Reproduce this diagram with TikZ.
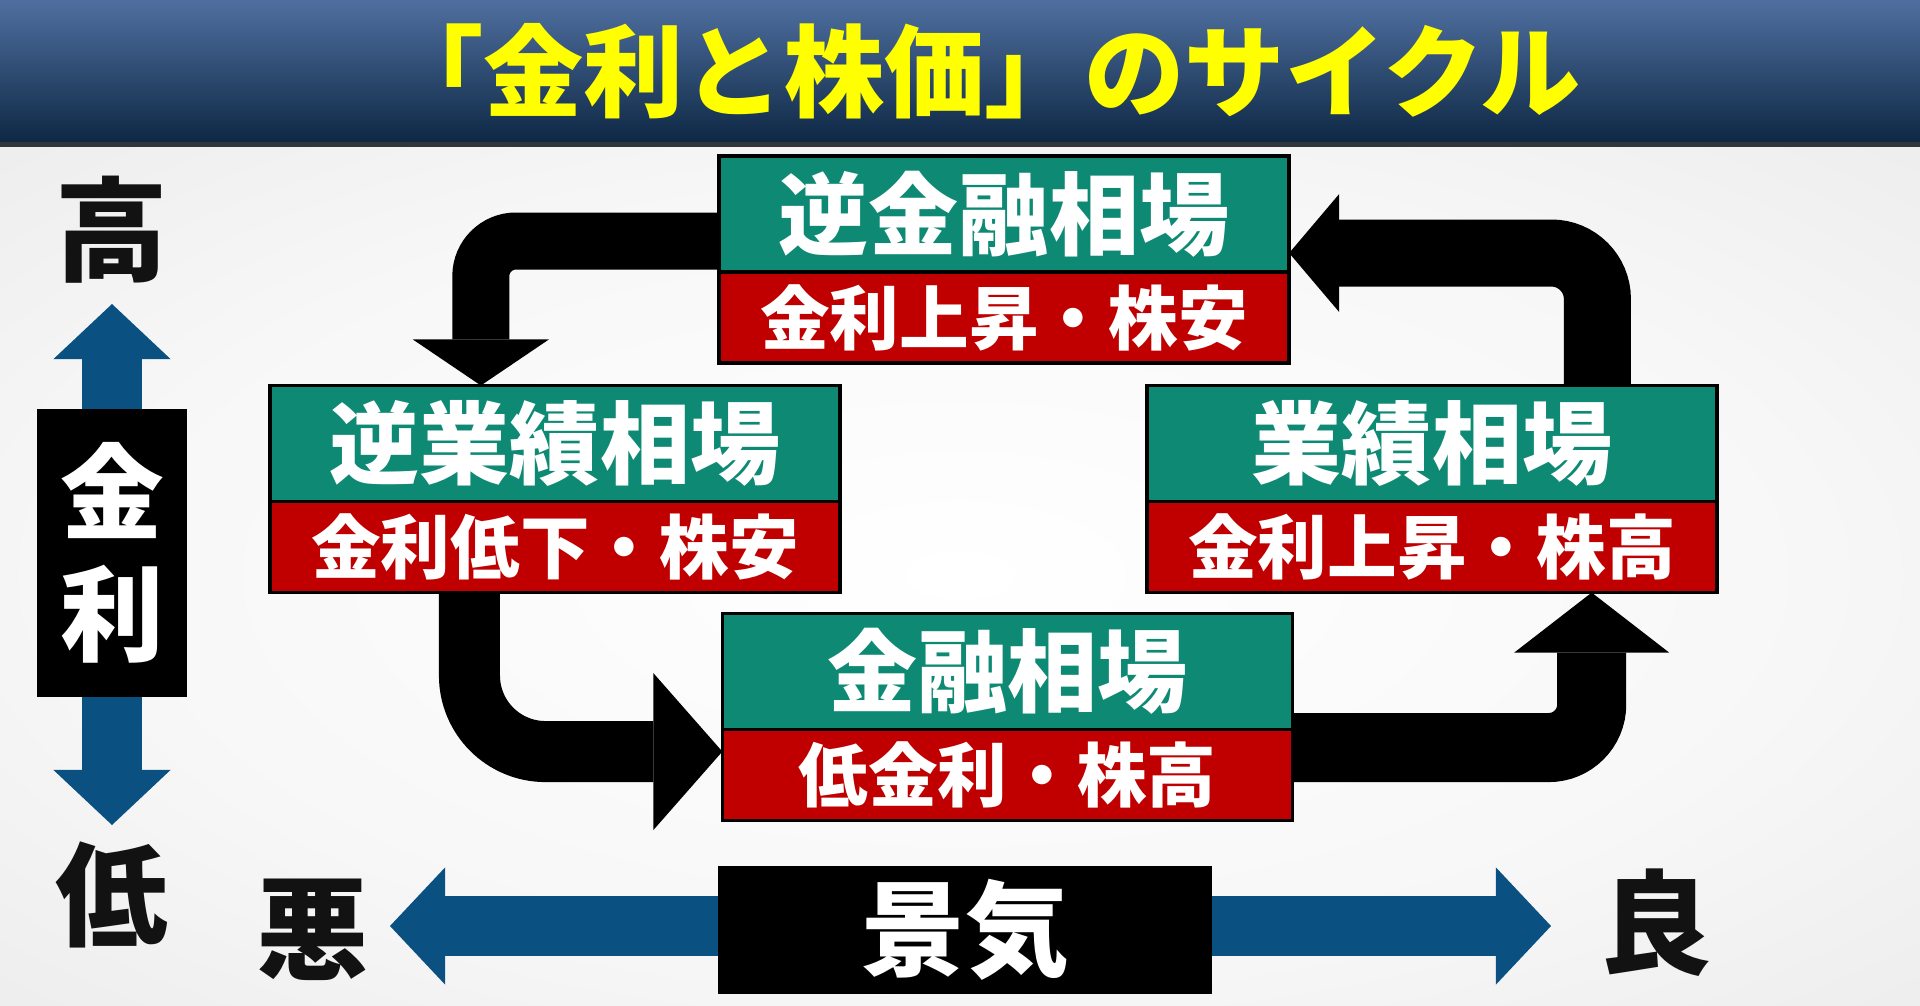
\documentclass[tikz,border=0pt]{standalone}
\usepackage{fontspec}
\usetikzlibrary{calc, positioning, arrows.meta, backgrounds}
\newfontfamily\jpfont{Noto Sans CJK JP}
\definecolor{mktgreen}{HTML}{0E8A74}
\definecolor{mktred}{HTML}{C00000}
\definecolor{axisblue}{HTML}{0A5081}
\definecolor{bartop}{HTML}{4F6FA0}
\definecolor{barmid}{HTML}{244A7A}
\definecolor{barbot}{HTML}{0E2844}
\definecolor{barline}{HTML}{30363C}
\definecolor{titleyellow}{HTML}{FFFF00}
\pgfdeclareradialshading{backdrop}{\pgfpoint{0bp}{0bp}}{color(0bp)=(white); color(22bp)=(black!3); color(50bp)=(black!11); color(72bp)=(black!13)}

\begin{document}
\begin{tikzpicture}[x=0.01cm, y=-0.01cm, every node/.style={inner sep=0pt, outer sep=0pt}]
  \tikzset{
    head/.style={draw=black, line width=1pt, fill=mktgreen, text=white, minimum width=5.7cm, minimum height=1.16cm, font=\jpfont\bfseries\fontsize{25.6}{26}\selectfont},
    sub/.style={draw=black, line width=1pt, fill=mktred, text=white, minimum width=5.7cm, minimum height=0.91cm, font=\jpfont\bfseries\fontsize{19.8}{20}\selectfont},
    axisbox/.style={fill=black, text=white, font=\jpfont\bfseries\fontsize{29.5}{34.7}\selectfont},
    endword/.style={text=black!93, font=\jpfont\bfseries\fontsize{32}{32}\selectfont},
    turn/.style n args={4}{line width=#1, rounded corners=#2, -{Triangle[length=#3, width=#4, line width=0pt]}},
    scalearrow/.style={draw=axisblue, line width=0.6cm, {Triangle[length=0.55cm, width=1.17cm, line width=0pt]}-{Triangle[length=0.55cm, width=1.17cm, line width=0pt]}}
  }
  \useasboundingbox (0,0) rectangle (1920,1005);

  \node[font=\jpfont\bfseries\fontsize{28.5}{28.5}\selectfont, text=titleyellow] (title) at (982,71) {「金利と株価」のサイクル};

  % market phases, clockwise from the top
  \node[head] (revfin) at (1004,214) {逆金融相場};
  \node[sub, below=0pt of revfin] (revfinsub) {金利上昇・株安};
  \node[head] (revearn) at (555,443.5) {逆業績相場};
  \node[sub, below=0pt of revearn] (revearnsub) {金利低下・株安};
  \node[head] (fin) at (1007.5,671.5) {金融相場};
  \node[sub, below=0pt of fin] (finsub) {低金利・株高};
  \node[head] (earn) at (1432,443.5) {業績相場};
  \node[sub, below=0pt of earn] (earnsub) {金利上昇・株高};

  % interest rate and business axes
  \coordinate (ratehi) at (112,304);
  \coordinate (ratelo) at (112,825);
  \coordinate (econbad) at (390,926);
  \coordinate (econgood) at (1551,926);
  \node[axisbox, minimum width=1.5cm, minimum height=2.88cm, align=center] (rate) at (112,553) {金\\利};
  \node[axisbox, minimum width=4.94cm, minimum height=1.28cm] (econ) at (965,930) {景気};
  \node[endword] (hi) at (112,230) {高};
  \node[endword] (lo) at (112,895) {低};
  \node[endword] (bad) at (313,930) {悪};
  \node[endword] (good) at (1656,923) {良};

  \begin{scope}[on background layer]
    \shade[shading=backdrop] (0,145) rectangle (1920,1005);
    \shade[top color=bartop, middle color=barmid, bottom color=barbot] (0,0) rectangle (1920,142);
    \fill[barline] (0,142) rectangle (1920,147);

    \draw[turn={0.57cm}{0.35cm}{0.46cm}{1.36cm}] ([yshift=3.1mm]revfin.south west) -| ($(revearn.north west)!0.37!(revearn.north east)$);
    \draw[turn={0.61cm}{0.76cm}{0.69cm}{1.57cm}] ($(revearnsub.south west)!0.35!(revearnsub.south east)$) |- ([yshift=-2.2mm]finsub.north west);
    \draw[turn={0.69cm}{0.43cm}{0.60cm}{1.55cm}] ([yshift=-1.8mm]finsub.north east) -| ($(earnsub.south west)!0.78!(earnsub.south east)$);
    \draw[turn={0.67cm}{0.46cm}{0.50cm}{1.18cm}] ($(earn.north west)!0.79!(earn.north east)$) |- ([yshift=-3.9mm]revfin.east);

    \draw[scalearrow] (ratelo) -- (ratehi);
    \draw[scalearrow] (econbad) -- (econgood);
  \end{scope}
\end{tikzpicture}
\end{document}
